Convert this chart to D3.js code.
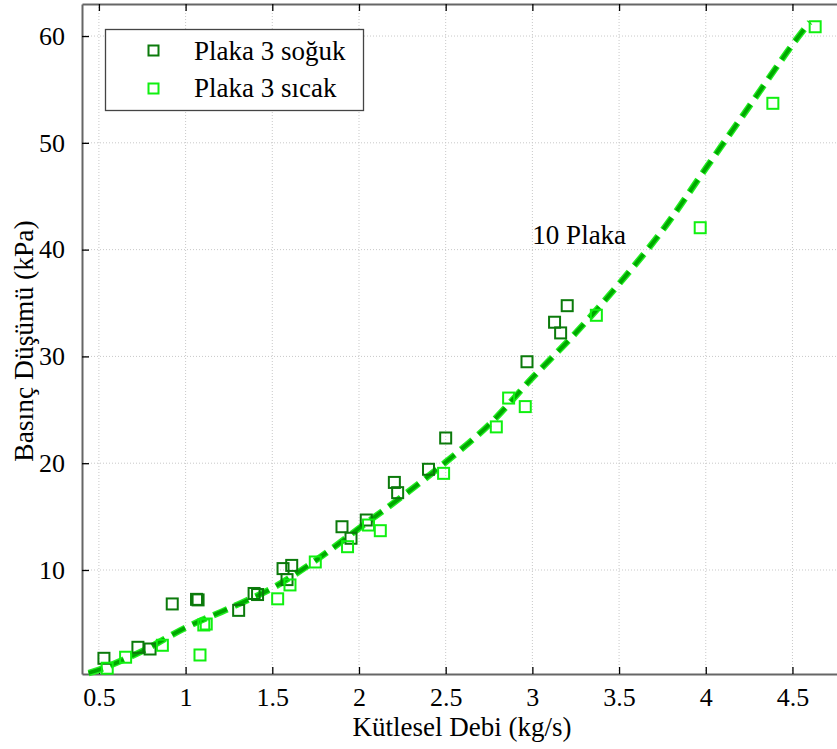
<!DOCTYPE html>
<html>
<head>
<meta charset="utf-8">
<script src="https://cdn.jsdelivr.net/npm/d3@7"></script>
<style>
body { margin: 0; background: #fff; }
svg { display: block; }
</style>
</head>
<body>
<div id="chart"></div>
<script>
var width = 837,
    height = 749;

// data
var xTicks = [0.5, 1, 1.5, 2, 2.5, 3, 3.5, 4, 4.5];
var yTicks = [10, 20, 30, 40, 50, 60];

var sogukX = [0.529, 0.725, 0.795, 0.923, 1.063, 1.072, 1.306, 1.395, 1.415, 1.562, 1.585, 1.612, 1.902, 1.954, 2.042, 2.204, 2.223, 2.401, 2.5, 2.969, 3.128, 3.163, 3.201];
var sogukY = [1.73, 2.76, 2.6, 6.82, 7.25, 7.2, 6.22, 7.8, 7.7, 10.13, 9.1, 10.43, 14.05, 12.97, 14.68, 18.2, 17.24, 19.43, 22.36, 29.5, 33.2, 32.2, 34.75];

var sicakX = [0.548, 0.654, 0.866, 1.083, 1.105, 1.119, 1.531, 1.602, 1.748, 1.934, 2.055, 2.123, 2.488, 2.792, 2.863, 2.959, 3.369, 3.968, 4.387, 4.631];
var sicakY = [0.8, 1.83, 2.95, 2.04, 4.85, 4.94, 7.3, 8.6, 10.75, 12.18, 14.21, 13.68, 19.05, 23.4, 26.1, 25.3, 33.85, 42.05, 53.7, 60.87];

var curveX = [0.44, 0.5, 0.75, 1.0, 1.25, 1.5, 1.75, 2.0, 2.25, 2.5, 2.75, 3.0, 3.25, 3.5, 3.75, 4.0, 4.25, 4.5, 4.6];
var curveY = [0.35, 0.65, 2.4, 4.6, 6.4, 8.3, 10.9, 13.9, 16.9, 20.1, 23.6, 28.0, 32.2, 36.8, 41.8, 47.6, 53.4, 59.2, 61.3];

var plotLeft = 82, plotRight = 841, plotTop = 4, plotBottom = 674;

var x = d3.scaleLinear().domain([0.4025, 4.78]).range([plotLeft, plotRight]);
var y = d3.scaleLinear().domain([0.26, 63]).range([plotBottom, plotTop]);

var svg = d3.select("#chart")
    .append("svg")
    .attr("width", width)
    .attr("height", height);

var font = "'Liberation Serif', 'Times New Roman', serif";

// grid
svg.append("g")
    .selectAll("line")
    .data(xTicks)
    .enter().append("line")
    .attr("x1", d => x(d)).attr("x2", d => x(d))
    .attr("y1", plotTop).attr("y2", plotBottom)
    .style("stroke", "#c8c8c8")
    .style("stroke-dasharray", "1,2");

svg.append("g")
    .selectAll("line")
    .data(yTicks)
    .enter().append("line")
    .attr("x1", plotLeft).attr("x2", plotRight)
    .attr("y1", d => y(d)).attr("y2", d => y(d))
    .style("stroke", "#c8c8c8")
    .style("stroke-dasharray", "1,2");

// axes, ticks inward
var xAxis = svg.append("g")
    .attr("transform", "translate(0," + plotBottom + ")")
    .call(d3.axisBottom(x).tickValues(xTicks).tickSizeInner(-7).tickSizeOuter(0).tickPadding(14).tickFormat(d3.format("")));

var xTop = svg.append("g")
    .attr("transform", "translate(0," + plotTop + ")")
    .call(d3.axisTop(x).tickValues(xTicks).tickSizeInner(-7).tickSizeOuter(0).tickFormat(""));

var yAxis = svg.append("g")
    .attr("transform", "translate(" + plotLeft + ",0)")
    .call(d3.axisLeft(y).tickValues(yTicks).tickSizeInner(-7).tickSizeOuter(0).tickPadding(17));

[xAxis, xTop, yAxis].forEach(function(g) {
    g.attr("font-family", font);
    g.select(".domain").style("stroke", "#666").style("stroke-width", 2);
    g.selectAll(".tick line").style("stroke", "#000").style("stroke-width", 1.3);
    g.selectAll("text")
        .style("font-family", font)
        .style("font-size", "26px")
        .style("fill", "#000");
});

// fit curve, dashed
var line = d3.line()
    .x(d => x(d[0]))
    .y(d => y(d[1]))
    .curve(d3.curveCatmullRom);

var curveData = d3.zip(curveX, curveY);

svg.append("path")
    .datum(curveData)
    .attr("d", line)
    .style("fill", "none")
    .style("stroke", "#22ee22")
    .style("stroke-width", 6.5)
    .style("stroke-dasharray", "15,8");

svg.append("path")
    .datum(curveData)
    .attr("d", line)
    .style("fill", "none")
    .style("stroke", "#00a800")
    .style("stroke-width", 3.8)
    .style("stroke-dasharray", "14.2,8.8")
    .style("stroke-dashoffset", -0.4);

// markers
var size = 11;

svg.append("g")
    .selectAll("rect")
    .data(d3.zip(sogukX, sogukY))
    .enter().append("rect")
    .attr("x", d => x(d[0]) - size / 2)
    .attr("y", d => y(d[1]) - size / 2)
    .attr("width", size)
    .attr("height", size)
    .style("fill", "none")
    .style("stroke", "#0b7a0b")
    .style("stroke-width", 2);

svg.append("g")
    .selectAll("rect")
    .data(d3.zip(sicakX, sicakY))
    .enter().append("rect")
    .attr("x", d => x(d[0]) - size / 2)
    .attr("y", d => y(d[1]) - size / 2)
    .attr("width", size)
    .attr("height", size)
    .style("fill", "none")
    .style("stroke", "#10f010")
    .style("stroke-width", 2);

// annotation
svg.append("text")
    .attr("x", x(3.0))
    .attr("y", y(40.55))
    .style("font-family", font)
    .style("font-size", "27px")
    .text("10 Plaka");

// legend
var legend = svg.append("g");

legend.append("rect")
    .attr("x", 105.5)
    .attr("y", 29.5)
    .attr("width", 258)
    .attr("height", 81)
    .style("fill", "#fff")
    .style("stroke", "#444")
    .style("stroke-width", 1.3);

var legendItems = [["Plaka 3 soğuk", "#0b7a0b"], ["Plaka 3 sıcak", "#10f010"]];

legendItems.forEach(function(item, i) {
    legend.append("rect")
        .attr("x", 148.5)
        .attr("y", 45.5 + i * 38)
        .attr("width", 10)
        .attr("height", 10)
        .style("fill", "none")
        .style("stroke", item[1])
        .style("stroke-width", 2);
    legend.append("text")
        .attr("x", 194)
        .attr("y", 60 + i * 37)
        .style("font-family", font)
        .style("font-size", "27px")
        .text(item[0]);
});

// axis titles
svg.append("text")
    .attr("x", 462)
    .attr("y", 736)
    .attr("text-anchor", "middle")
    .style("font-family", font)
    .style("font-size", "27px")
    .text("Kütlesel Debi (kg/s)");

svg.append("text")
    .attr("transform", "translate(33,341) rotate(-90)")
    .attr("text-anchor", "middle")
    .style("font-family", font)
    .style("font-size", "27.5px")
    .text("Basınç Düşümü (kPa)");
</script>
</body>
</html>
